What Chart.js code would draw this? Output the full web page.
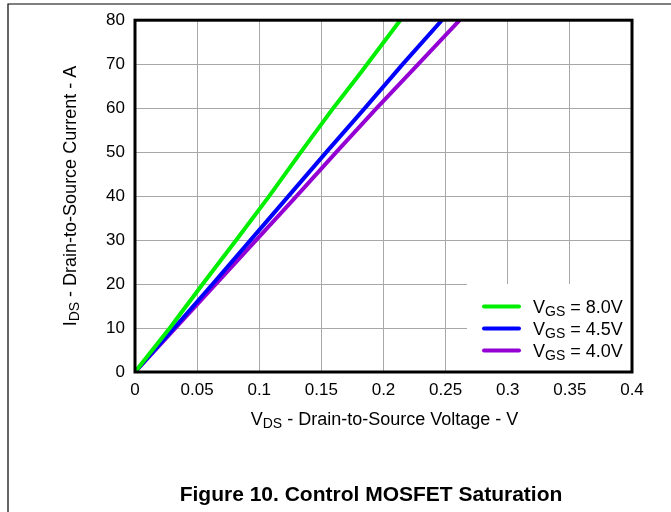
<!DOCTYPE html>
<html>
<head>
<meta charset="utf-8">
<script src="https://cdn.jsdelivr.net/npm/chart.js@4.4.0/dist/chart.umd.min.js"></script>
<style>
  html, body { margin: 0; padding: 0; background: #fff; }
  #wrap { width: 671px; height: 512px; position: relative; }
</style>
</head>
<body>
<div id="wrap"><canvas id="satChart" width="671" height="512"></canvas></div>
<script>
// Curve data (VDS in V, IDS in A)
const vdsVgs80 = [0, 0.028, 0.0545, 0.0815, 0.108, 0.1335, 0.1595, 0.1815, 0.1895, 0.2135];
const idsVgs80 = [0, 10, 20, 30, 40, 50, 60, 68, 71, 80];
const vdsVgs45 = [0, 0.0315, 0.0625, 0.093, 0.1235, 0.154, 0.185, 0.2155, 0.247];
const idsVgs45 = [0, 10, 20, 30, 40, 50, 60, 70, 80];
const vdsVgs40 = [0, 0.0325, 0.065, 0.0975, 0.130, 0.162, 0.1945, 0.228, 0.2613];
const idsVgs40 = [0, 10, 20, 30, 40, 50, 60, 70, 80];

const seriesNames = ['8.0V', '4.5V', '4.0V'];
const seriesColors = ['#00ee00', '#0000ff', '#9400d3'];

const xMin = 0, xMax = 0.4, xStep = 0.05;
const yMin = 0, yMax = 80, yStep = 10;

const FONT = 'Liberation Sans, Arial, Helvetica, sans-serif';

function toPoints(xs, ys) {
  return xs.map((x, i) => ({ x: x, y: ys[i] }));
}

// draw text with one subscript part, starting at x (left aligned)
function drawSubText(ctx, x, y, main, sub, rest, size, subSize) {
  ctx.font = size + 'px ' + FONT;
  ctx.fillText(main, x, y);
  x += ctx.measureText(main).width;
  ctx.font = subSize + 'px ' + FONT;
  ctx.fillText(sub, x, y + 3);
  x += ctx.measureText(sub).width;
  ctx.font = size + 'px ' + FONT;
  ctx.fillText(rest, x, y);
}

function subTextWidth(ctx, main, sub, rest, size, subSize) {
  ctx.font = size + 'px ' + FONT;
  let w = ctx.measureText(main).width + ctx.measureText(rest).width;
  ctx.font = subSize + 'px ' + FONT;
  return w + ctx.measureText(sub).width;
}

// Plugin: plot frame, legend box, axis titles, figure caption
const decorPlugin = {
  id: 'decor',
  afterDatasetsDraw(chart) {
    const ctx = chart.ctx;
    const a = chart.chartArea;
    ctx.save();

    // legend box (white, covers grid)
    const bw = 165, bh = 88;
    const bx = a.right - bw, by = a.bottom - bh;
    ctx.fillStyle = '#fff';
    ctx.fillRect(bx, by, bw, bh);
    ctx.textBaseline = 'alphabetic';
    ctx.textAlign = 'left';
    seriesNames.forEach((name, i) => {
      const ry = by + 22.5 + i * 22;
      ctx.strokeStyle = seriesColors[i];
      ctx.lineWidth = 4;
      ctx.lineCap = 'round';
      ctx.beginPath();
      ctx.moveTo(bx + 17, ry);
      ctx.lineTo(bx + 52, ry);
      ctx.stroke();
      ctx.fillStyle = '#000';
      drawSubText(ctx, bx + 66, ry + 6.5, 'V', 'GS', ' = ' + name, 18, 14);
    });

    // plot border
    ctx.strokeStyle = '#000';
    ctx.lineWidth = 3;
    ctx.lineCap = 'butt';
    ctx.strokeRect(a.left, a.top, a.right - a.left, a.bottom - a.top);

    // outer figure frame (left and top edges)
    ctx.lineWidth = 1.2;
    ctx.beginPath();
    ctx.moveTo(8, 512);
    ctx.lineTo(8, 4);
    ctx.lineTo(671, 4);
    ctx.stroke();

    // x axis title
    ctx.fillStyle = '#000';
    const cx = (a.left + a.right) / 2 + 1;
    let w = subTextWidth(ctx, 'V', 'DS', ' - Drain-to-Source Voltage - V', 18, 14);
    drawSubText(ctx, cx - w / 2, 424.5, 'V', 'DS', ' - Drain-to-Source Voltage - V', 18, 14);

    // y axis title (rotated)
    const cy = (a.top + a.bottom) / 2;
    ctx.translate(76, cy);
    ctx.rotate(-Math.PI / 2);
    w = subTextWidth(ctx, 'I', 'DS', ' - Drain-to-Source Current - A', 18, 14);
    drawSubText(ctx, -w / 2, 0, 'I', 'DS', ' - Drain-to-Source Current - A', 18, 14);
    ctx.setTransform(1, 0, 0, 1, 0, 0);

    // caption
    ctx.font = 'bold 21px ' + FONT;
    ctx.textAlign = 'center';
    ctx.fillText('Figure 10. Control MOSFET Saturation', 371, 500.5);

    ctx.restore();
  }
};

const ctx = document.getElementById('satChart').getContext('2d');
const satChart = new Chart(ctx, {
  type: 'scatter',
  data: {
    datasets: [
      { label: 'VGS = 8.0V', data: toPoints(vdsVgs80, idsVgs80) },
      { label: 'VGS = 4.5V', data: toPoints(vdsVgs45, idsVgs45) },
      { label: 'VGS = 4.0V', data: toPoints(vdsVgs40, idsVgs40) }
    ].map((d, i) => Object.assign(d, {
      showLine: true,
      borderColor: seriesColors[i],
      backgroundColor: seriesColors[i],
      borderWidth: 4,
      pointRadius: 0,
      tension: 0,
      borderJoinStyle: 'round'
    }))
  },
  options: {
    responsive: false,
    animation: false,
    layout: { padding: { left: 0, top: 20, right: 39, bottom: 0 } },
    plugins: {
      legend: { display: false },
      tooltip: { enabled: false }
    },
    scales: {
      x: {
        type: 'linear',
        min: xMin,
        max: xMax,
        afterFit(scale) { scale.height = 140; },
        ticks: {
          stepSize: xStep,
          padding: 8,
          color: '#000',
          font: { family: FONT, size: 17 },
          callback: v => String(Number(v.toFixed(2)))
        },
        grid: { color: '#a8a8a8', lineWidth: 1, drawTicks: false },
        border: { display: false }
      },
      y: {
        type: 'linear',
        min: yMin,
        max: yMax,
        afterFit(scale) { scale.width = 135; },
        ticks: {
          stepSize: yStep,
          padding: 10,
          color: '#000',
          font: { family: FONT, size: 17 }
        },
        grid: { color: '#a8a8a8', lineWidth: 1, drawTicks: false },
        border: { display: false }
      }
    }
  },
  plugins: [decorPlugin]
});
</script>
</body>
</html>
